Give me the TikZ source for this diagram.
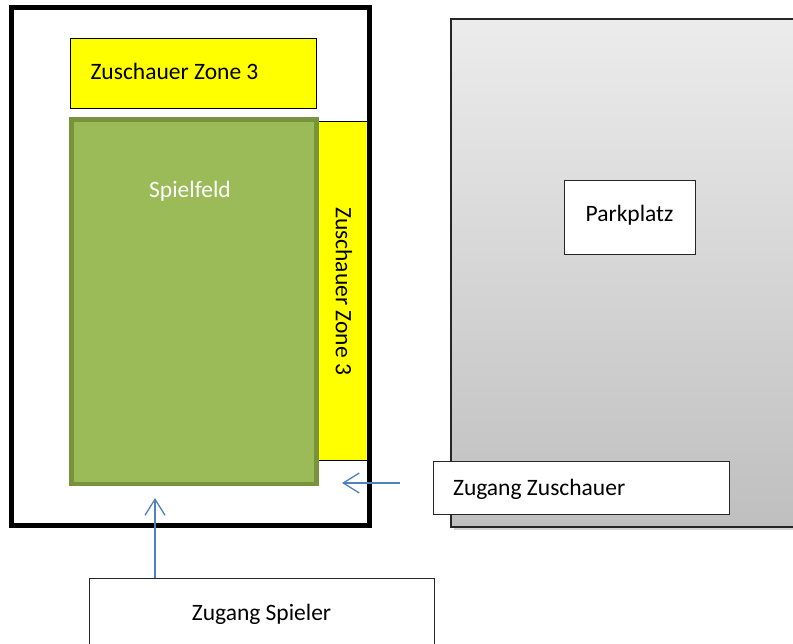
\documentclass[tikz,border=0pt]{standalone}
\usepackage{fontspec}
\setmainfont{Carlito}
\usetikzlibrary{arrows.meta,shadows}
\definecolor{zoneyellow}{HTML}{FFFF00}
\definecolor{fieldgreen}{HTML}{9BBB59}
\definecolor{fieldborder}{HTML}{77933C}
\definecolor{arrowblue}{HTML}{4F81BD}
\definecolor{parktop}{HTML}{ECECEC}
\definecolor{parkbottom}{HTML}{BFBFBF}
\tikzset{
  box/.style={anchor=north west, inner sep=0pt, outer sep=0pt},
  framebox/.style={box, draw=black, line width=5pt},
  zonebox/.style={box, draw=black, line width=1pt, fill=zoneyellow},
  fieldbox/.style={box, draw=fieldborder, line width=4.5pt, fill=fieldgreen, text=white},
  whitebox/.style={box, draw=black!85, line width=1pt, fill=white},
  parkbox/.style={box, draw=black!85, line width=1.2pt, top color=parktop, bottom color=parkbottom,
     drop shadow={opacity=0.35, shadow xshift=3pt, shadow yshift=-3pt}},
  access/.style={draw=arrowblue, line width=1.3pt, -{Straight Barb[length=16pt,width=20pt,line width=1.3pt]}}
}
\begin{document}
\begin{tikzpicture}[x=1pt,y=-1pt,font=\fontsize{23.5}{28}\selectfont]
\useasboundingbox (0,0) rectangle (793,644);
\clip (0,0) rectangle (793,644);
% parking lot
\node[parkbox, minimum width=360pt, minimum height=508pt] (park) at (451,19) {};
\node[whitebox, minimum width=131pt, minimum height=74pt] (parklabel) at (564,181) {\raisebox{10pt}{Parkplatz}};
% spectator zones
\node[zonebox, minimum width=52pt, minimum height=338pt] (zoneright) at (318,122)
  {\rotatebox{-90}{Zuschauer Zone 3}};
\node[zonebox, minimum width=245.5pt, minimum height=70pt] (zonetop) at (70.5,39) {\raisebox{6pt}{\makebox[205.5pt][l]{Zuschauer Zone 3}}};
% outer frame
\node[framebox, minimum width=358pt, minimum height=518pt] (frame) at (11.5,7.5) {};
% playing field
\node[fieldbox, minimum width=245pt, minimum height=364.5pt] (field) at (71.5,119.5) {};
\node[text=white, anchor=center] (fieldlabel) at (190,191) {Spielfeld};
% access boxes
\node[whitebox, minimum width=296pt, minimum height=53pt] (zugzus) at (433,461) {\raisebox{-20pt}{\makebox[256pt][l]{Zugang Zuschauer}}};
\node[whitebox, minimum width=345pt, minimum height=72pt] (zugspi) at (89,578) {Zugang Spieler};
% arrows
\coordinate (zusstart) at (400,483);
\coordinate (zusend) at (342,483);
\coordinate (spiend) at (155,498);
\draw[access] (zusstart) -- (zusend);
\draw[access] (zugspi.north -| spiend) -- (spiend);
\end{tikzpicture}
\end{document}
